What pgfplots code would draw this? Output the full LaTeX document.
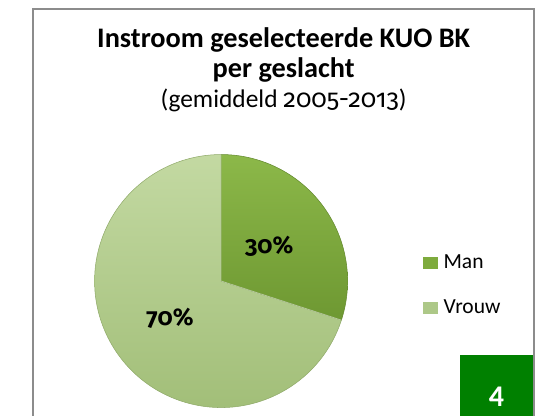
\documentclass[border=0pt]{standalone}
\usepackage{pgfplots}
\pgfplotsset{compat=1.18}
\usepackage{pgfplotstable}
\usepackage{fontspec}
\setmainfont{Carlito}
\newfontfamily\osf{Fira Sans}[Numbers=OldStyle]

\definecolor{manA}{HTML}{8CB849}
\definecolor{manB}{HTML}{6E9832}
\definecolor{manL}{HTML}{7EAB3D}
\definecolor{vrA}{HTML}{C3D9A2}
\definecolor{vrB}{HTML}{A0BD76}
\definecolor{vrL}{HTML}{ADC888}
\definecolor{boxgreen}{HTML}{008000}
\definecolor{framegray}{HTML}{8C8C8C}

\pgfplotstableread{
label  value
Man    30
Vrouw  70
}\piedata

\begin{document}
\pgfplotstablegetelem{0}{value}\of\piedata \let\vMan\pgfplotsretval
\pgfplotstablegetelem{1}{value}\of\piedata \let\vVrouw\pgfplotsretval
\pgfmathsetmacro\aMan{90-3.6*\vMan}
\pgfmathsetmacro\aVrouw{\aMan-3.6*\vVrouw}
\pgfmathsetmacro\mMan{90-1.8*\vMan}
\pgfmathsetmacro\mVrouw{\aMan-1.8*\vVrouw}
\begin{tikzpicture}
% page frame, in pixels of the reference (y down)
\begin{scope}[x=0.75pt, y=-0.75pt]
  \path[use as bounding box] (0,0) rectangle (537,425);
  \node[anchor=base, font=\bfseries\fontsize{21.7}{21.7}\selectfont] at (278,48.6) {Instroom geselecteerde KUO BK};
  \node[anchor=base, font=\bfseries\fontsize{21.7}{21.7}\selectfont] at (278,79.5) {per geslacht};
  \node[anchor=base, font=\fontsize{19.5}{19.5}\selectfont] at (278,110) {(gemiddeld {\osf 2005-2013})};
  \fill[boxgreen] (458,363) rectangle (534,425);
  \node[white, font=\bfseries\fontsize{23}{23}\selectfont] at (495.5,405.5) {4};
  \draw[framegray, line width=1.6pt] (22,426) -- (22,9) -- (534,9) -- (534,426);
\end{scope}

\begin{axis}[
  x=97pt, y=97pt,
  xmin=-1, xmax=1, ymin=-1, ymax=1,
  hide axis,
  anchor=center, at={(160.5pt,-215.5pt)},
  legend style={draw=none, fill=none, inner sep=0pt, outer sep=0pt,
    at={(rel axis cs:1.3,0.612)}, anchor=north west,
    font=\fontsize{16.5}{16.5}\selectfont,
    nodes={text height=12pt, text depth=3.5pt, inner sep=0pt},
    column sep=4.5pt, row sep=19pt},
  legend cell align=left,
]
\shade[top color=vrA, bottom color=vrB, draw=vrB!90!black, line width=0.4pt]
  (axis cs:0,0) -- ++(\aMan:97pt) arc[start angle=\aMan, end angle=\aVrouw, radius=97pt] -- cycle;
\shade[top color=manA, bottom color=manB, draw=manB!90!black, line width=0.4pt]
  (axis cs:0,0) -- ++(90:97pt) arc[start angle=90, end angle=\aMan, radius=97pt] -- cycle;
\draw[white, opacity=0.5, line width=0.6pt]
  (axis cs:0,0) -- ++(90:97pt) (axis cs:0,0) -- ++(\aMan:97pt);
\node[font=\osf\bfseries\fontsize{18.5}{18.5}\selectfont]
  at (axis cs:{0.47*cos(\mMan)},{0.47*sin(\mMan)}) {\vMan\%};
\node[font=\osf\bfseries\fontsize{18.5}{18.5}\selectfont]
  at (axis cs:{0.5*cos(\mVrouw)},{0.5*sin(\mVrouw)}) {\vVrouw\%};
\addlegendimage{legend image code/.code={\fill[manL] (0pt,-4.5pt) rectangle (10.5pt,4.5pt);}}
\addlegendentry{Man}
\addlegendimage{legend image code/.code={\fill[vrL] (0pt,-4.5pt) rectangle (10.5pt,4.5pt);}}
\addlegendentry{Vrouw}
\end{axis}
\end{tikzpicture}
\end{document}
